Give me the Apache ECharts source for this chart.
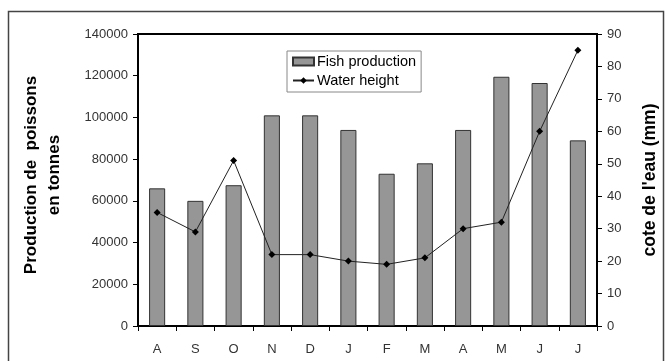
<!DOCTYPE html>
<html>
<head>
<meta charset="utf-8">
<script src="https://cdn.jsdelivr.net/npm/echarts@6/dist/echarts.min.js"></script>
<style>html,body{margin:0;padding:0;background:#fff}#c{width:667px;height:361px}</style>
</head>
<body>
<div id="c"></div>
<script>
var categories = ['A','S','O','N','D','J','F','M','A','M','J','J'];
var fishProduction = [66000, 60000, 67500, 101000, 101000, 94000, 73000, 78000, 94000, 119500, 116500, 89000];
var waterHeight = [35, 29, 51, 22, 22, 20, 19, 21, 30, 32, 60, 85];
var leftTicks = {min: 0, max: 140000, interval: 20000};
var rightTicks = {min: 0, max: 90, interval: 10};

var font = '"Liberation Sans", Arial, sans-serif';
var chart = echarts.init(document.getElementById('c'), null, {renderer: 'canvas'});
chart.setOption({
  backgroundColor: '#fff',
  animation: false,
  textStyle: {fontFamily: font},
  graphic: [{
    type: 'rect', shape: {x: 8.5, y: 11.5, width: 655, height: 360},
    style: {fill: 'none', stroke: '#444', lineWidth: 1.5}, silent: true
  }],
  grid: {left: 138, right: 69, top: 34, bottom: 35, show: true, borderColor: '#000', borderWidth: 2, backgroundColor: '#fff'},
  legend: {
    left: 287, top: 51, orient: 'vertical', itemGap: 4, padding: [3, 5, 4, 5],
    borderColor: '#888', borderWidth: 1, itemWidth: 21, itemHeight: 8,
    textStyle: {fontFamily: font, fontSize: 14.5, color: '#000', padding: [0, 0, 0, -2]},
    data: [
      {name: 'Fish production', icon: 'rect'},
      {name: 'Water height'}
    ]
  },
  xAxis: {
    type: 'category', data: categories,
    axisLine: {lineStyle: {color: '#000', width: 2}},
    axisTick: {show: true, alignWithLabel: false, length: 5, lineStyle: {color: '#000', width: 1}},
    axisLabel: {color: '#333', fontSize: 13, margin: 17, fontFamily: font}
  },
  yAxis: [{
    type: 'value', min: leftTicks.min, max: leftTicks.max, interval: leftTicks.interval,
    name: 'Production de  poissons\nen tonnes', nameLocation: 'middle', nameRotate: 90, nameGap: 72,
    nameTextStyle: {fontSize: 17, fontWeight: 'bold', color: '#000', fontFamily: font, lineHeight: 23, padding: [0, 0, 0, 10]},
    axisLine: {show: true, lineStyle: {color: '#000', width: 2}},
    axisTick: {show: true, length: 5, lineStyle: {color: '#000'}},
    axisLabel: {color: '#333', fontSize: 13, margin: 10, fontFamily: font, formatter: function (v) { return String(v); }},
    splitLine: {show: false}
  }, {
    type: 'value', min: rightTicks.min, max: rightTicks.max, interval: rightTicks.interval,
    name: "cote de l'eau (mm)", nameLocation: 'middle', nameRotate: 90, nameGap: 44,
    nameTextStyle: {fontSize: 17.5, fontWeight: 'bold', color: '#000', fontFamily: font},
    axisLine: {show: true, lineStyle: {color: '#000', width: 2}},
    axisTick: {show: true, length: 5, lineStyle: {color: '#000'}},
    axisLabel: {color: '#333', fontSize: 13, margin: 10, fontFamily: font},
    splitLine: {show: false}
  }],
  series: [{
    name: 'Fish production', type: 'bar', data: fishProduction, yAxisIndex: 0,
    barWidth: '42%',
    itemStyle: {color: '#969696', borderColor: '#333', borderWidth: 1}
  }, {
    name: 'Water height', type: 'line', data: waterHeight, yAxisIndex: 1,
    symbol: 'diamond', symbolSize: 7,
    lineStyle: {color: '#222', width: 1},
    itemStyle: {color: '#000'}
  }]
});
</script>
</body>
</html>
